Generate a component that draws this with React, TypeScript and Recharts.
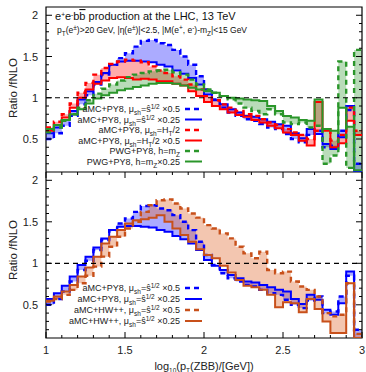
import React from "react";
import {
  ComposedChart,
  Line,
  Area,
  XAxis,
  YAxis,
  ReferenceLine,
  ReferenceArea,
} from "recharts";

// bin edges in log10(pT(ZBB)/GeV), 40 bins of 0.05
const binEdges = [
  1, 1.05, 1.1, 1.15, 1.2, 1.25, 1.3, 1.35, 1.4, 1.45, 1.5, 1.55, 1.6, 1.65,
  1.7, 1.75, 1.8, 1.85, 1.9, 1.95, 2, 2.05, 2.1, 2.15, 2.2, 2.25, 2.3, 2.35,
  2.4, 2.45, 2.5, 2.55, 2.6, 2.65, 2.7, 2.75, 2.8, 2.85, 2.9, 2.95, 3,
];

// aMC+PY8, mu_sh = sqrt(s_hat) x0.5 / x0.25
const py8Half = [
  0.5, 0.57, 0.66, 0.78, 0.92, 1.03, 1.16, 1.28, 1.4, 1.48,
  1.54, 1.62, 1.69, 1.7, 1.66, 1.64, 1.58, 1.5, 1.4, 1.26,
  1.1, 0.98, 0.88, 0.82, 0.78, 0.74, 0.72, 0.68, 0.64, 0.62,
  0.56, 0.5, 0.46, 0.55, 0.6, 0.4, 0.42, 0.6, 0.85, 0.2,
];
const py8Quarter = [
  0.57, 0.64, 0.73, 0.84, 0.98, 1.08, 1.19, 1.3, 1.4, 1.44,
  1.45, 1.45, 1.44, 1.43, 1.4, 1.38, 1.33, 1.29, 1.24, 1.16,
  1.04, 0.97, 0.92, 0.86, 0.82, 0.78, 0.77, 0.74, 0.71, 0.68,
  0.66, 0.57, 0.51, 0.62, 0.56, 0.44, 0.38, 0.52, 0.9, 0.1,
];

// aMC+PY8, mu_sh = H_T/2 and H_T/2 x0.5
const py8Ht = [
  0.64, 0.71, 0.8, 0.93, 1.06, 1.18, 1.28, 1.36, 1.41, 1.44,
  1.46, 1.45, 1.43, 1.38, 1.33, 1.3, 1.26, 1.22, 1.16, 1.1,
  1.02, 0.97, 0.92, 0.88, 0.84, 0.8, 0.78, 0.74, 0.7, 0.67,
  0.62, 0.58, 0.55, 0.5, 0.6, 0.62, 0.48, 0.55, 0.88, 0.6,
];
const py8HtHalf = [
  0.6, 0.67, 0.76, 0.88, 1.0, 1.1, 1.17, 1.21, 1.24, 1.25,
  1.24, 1.22, 1.23, 1.22, 1.2, 1.2, 1.17, 1.15, 1.08, 1.02,
  0.95, 0.9, 0.86, 0.82, 0.79, 0.77, 0.73, 0.7, 0.66, 0.63,
  0.58, 0.55, 0.48, 0.42, 0.95, 0.6, 0.4, 0.45, 0.72, 0.55,
];

// PWG+PY8, h = m_Z and m_Z x0.25
const pwgMz = [
  0.58, 0.64, 0.72, 0.8, 0.88, 0.97, 1.05, 1.11, 1.16, 1.21,
  1.25, 1.28, 1.3, 1.32, 1.33, 1.34, 1.31, 1.28, 1.22, 1.16,
  1.1, 1.06, 1.02, 0.98, 0.93, 0.88, 0.84, 0.8, 0.86, 0.8,
  0.7, 0.68, 0.7, 0.64, 0.66, 0.2, 0.3, 1.44, 0.15, 1.58,
];
const pwgMzQuarter = [
  0.62, 0.67, 0.73, 0.8, 0.86, 0.93, 0.99, 1.03, 1.06, 1.09,
  1.11, 1.13, 1.15, 1.17, 1.18, 1.18, 1.17, 1.15, 1.12, 1.1,
  1.08, 1.06, 1.02, 1.0, 0.99, 0.98, 0.97, 0.96, 0.9, 0.84,
  0.78, 0.76, 0.73, 0.72, 0.98, 0.62, 0.6, 0.88, 0.65, 0.12,
];

// aMC+HW++, mu_sh = sqrt(s_hat) x0.5 / x0.25
const hwHalf = [
  0.54, 0.57, 0.62, 0.68, 0.76, 0.85, 0.96, 1.08, 1.2, 1.32,
  1.42, 1.5, 1.62, 1.7, 1.76, 1.77, 1.72, 1.66, 1.6, 1.55,
  1.46, 1.42, 1.36, 1.3, 1.2, 1.12, 1.06, 1.14, 0.92, 0.88,
  0.9, 0.78, 0.72, 0.68, 0.6, 0.4, 0.36, 0.38, 0.76, 0.15,
];
const hwQuarter = [
  0.55, 0.6, 0.66, 0.74, 0.84, 0.95, 1.08, 1.24, 1.32, 1.4,
  1.48, 1.52, 1.53, 1.55, 1.58, 1.5, 1.42, 1.34, 1.26, 1.17,
  1.1, 1.06, 0.97, 0.89, 0.8, 0.73, 0.71, 0.68, 0.62, 0.47,
  0.53, 0.52, 0.41, 0.57, 0.45, 0.3, 0.16, 0.16, 0.76, 0.1,
];

const xTicks = [
  1, 1.1, 1.2, 1.3, 1.4, 1.5, 1.6, 1.7, 1.8, 1.9, 2, 2.1, 2.2, 2.3, 2.4, 2.5,
  2.6, 2.7, 2.8, 2.9, 3,
];
const xMajor = [1, 1.5, 2, 2.5, 3];
const yTicks = [
  0.2, 0.3, 0.4, 0.5, 0.6, 0.7, 0.8, 0.9, 1, 1.1, 1.2, 1.3, 1.4, 1.5, 1.6, 1.7,
  1.8, 1.9, 2,
];
const yMajor = [0.5, 1, 1.5, 2];

// one row per bin edge; the last edge repeats the last bin so stepAfter closes it
const rows = binEdges.map((x, i) => {
  const k = Math.min(i, py8Half.length - 1);
  return {
    x,
    py8Half: py8Half[k],
    py8Quarter: py8Quarter[k],
    py8Ht: py8Ht[k],
    py8HtHalf: py8HtHalf[k],
    pwgMz: pwgMz[k],
    pwgMzQuarter: pwgMzQuarter[k],
    hwHalf: hwHalf[k],
    hwQuarter: hwQuarter[k],
  };
});

const FONT = "'Liberation Sans', Arial, sans-serif";
const W = 366;
const PLOT_W = 316;
const TOP_H = 172;
const BOT_H = 200;
const TOP_PLOT_H = 165;
const BOT_PLOT_H = 166;

const BLUE = "#0000ff";
const RED = "#ff0000";
const GREEN = "#2a962a";
const ORANGE = "#c8501a";
const DASH = "5 4";

const isMajor = (v: number, list: number[]) =>
  list.some((m) => Math.abs(m - v) < 1e-6);

// inward ticks on both sides of the frame, labels only on the left
const yTick = (props: any) => {
  const { x, y, payload } = props;
  const major = isMajor(payload.value, yMajor);
  const len = major ? 6 : 3;
  return (
    <g>
      <line x1={x} x2={x + len} y1={y} y2={y} stroke="#000" />
      <line x1={x + PLOT_W} x2={x + PLOT_W - len} y1={y} y2={y} stroke="#000" />
      {major && (
        <text x={x - 8} y={y + 4} textAnchor="end" fontSize={11} fill="#222" fontFamily={FONT}>
          {payload.value}
        </text>
      )}
    </g>
  );
};

const xTick = (plotH: number, labels: boolean) => (props: any) => {
  const { x, y, payload } = props;
  const major = isMajor(payload.value, xMajor);
  const len = major ? 6 : 3;
  return (
    <g>
      <line x1={x} x2={x} y1={y} y2={y - len} stroke="#000" />
      <line x1={x} x2={x} y1={y - plotH} y2={y - plotH + len} stroke="#000" />
      {labels && major && (
        <text x={x} y={y + 16} textAnchor="middle" fontSize={11} fill="#222" fontFamily={FONT}>
          {payload.value}
        </text>
      )}
    </g>
  );
};

function band(lo: string, hi: string, color: string, opacity = 0.33) {
  return (
    <Area
      key={lo + hi}
      type="stepAfter"
      dataKey={(d: any) => [d[lo], d[hi]]}
      stroke="none"
      fill={color}
      fillOpacity={opacity}
      isAnimationActive={false}
      activeDot={false}
    />
  );
}

function step(key: string, color: string, dashed: boolean) {
  return (
    <Line
      key={key}
      type="stepAfter"
      dataKey={key}
      stroke={color}
      strokeWidth={dashed ? 2.4 : 2}
      strokeDasharray={dashed ? DASH : undefined}
      dot={false}
      activeDot={false}
      isAnimationActive={false}
    />
  );
}

function axes(plotH: number, labels: boolean, xHeight: number) {
  return [
    <XAxis
      key="x"
      dataKey="x"
      type="number"
      domain={[1, 3]}
      ticks={xTicks}
      interval={0}
      height={xHeight}
      tickSize={0}
      tickMargin={0}
      axisLine={false}
      tickLine={false}
      tick={xTick(plotH, labels)}
      allowDataOverflow
    />,
    <YAxis
      key="y"
      type="number"
      domain={[0.1, 2.1]}
      ticks={yTicks}
      interval={0}
      width={38}
      tickSize={0}
      tickMargin={0}
      axisLine={false}
      tickLine={false}
      tick={yTick}
      allowDataOverflow
    />,
  ];
}

const frame = [
  <ReferenceLine key="one" y={1} stroke="#000" strokeWidth={1.2} strokeDasharray="5 4" />,
  <ReferenceArea key="frame" x1={1} x2={3} y1={0.1} y2={2.1} fill="none" stroke="#000" strokeWidth={1.2} fillOpacity={0} />,
];

// sub/superscripts shift only their own span
const Sub = ({ children }: { children: React.ReactNode }) => (
  <tspan baselineShift={-2.5} fontSize={6.5}>{children}</tspan>
);
const Sup = ({ children }: { children: React.ReactNode }) => (
  <tspan baselineShift={3.5} fontSize={6.5}>{children}</tspan>
);

const muSqrt = (gen: string, factor: string) => (
  <>
    {gen}, μ<Sub>sh</Sub>=ŝ<Sup>1/2</Sup> {factor}
  </>
);

const topLegend = [
  { label: muSqrt("aMC+PY8", "×0.5"), color: BLUE, dashed: true },
  { label: muSqrt("aMC+PY8", "×0.25"), color: BLUE, dashed: false },
  { label: <>aMC+PY8, μ<Sub>sh</Sub>=H<Sub>T</Sub>/2</>, color: RED, dashed: true },
  { label: <>aMC+PY8, μ<Sub>sh</Sub>=H<Sub>T</Sub>/2 ×0.5</>, color: RED, dashed: false },
  { label: <>PWG+PY8, h=m<Sub>Z</Sub></>, color: GREEN, dashed: true },
  { label: <>PWG+PY8, h=m<Sub>Z</Sub>×0.25</>, color: GREEN, dashed: false },
];
const bottomLegend = [
  { label: muSqrt("aMC+PY8", "×0.5"), color: BLUE, dashed: true },
  { label: muSqrt("aMC+PY8", "×0.25"), color: BLUE, dashed: false },
  { label: muSqrt("aMC+HW++", "×0.5"), color: ORANGE, dashed: true },
  { label: muSqrt("aMC+HW++", "×0.25"), color: ORANGE, dashed: false },
];

function legendRows(items: typeof topLegend, y0: number, dy: number) {
  return items.map((it, i) => {
    const y = y0 + i * dy;
    return (
      <g key={y}>
        <text x={180} y={y + 3} textAnchor="end" fontSize={9} fill="#222">
          {it.label}
        </text>
        <line
          x1={185}
          x2={202}
          y1={y}
          y2={y}
          stroke={it.color}
          strokeWidth={it.dashed ? 2.4 : 2}
          strokeDasharray={it.dashed ? DASH : undefined}
        />
      </g>
    );
  });
}

export default function App() {
  return (
    <div
      style={{
        position: "absolute",
        left: 0,
        top: 0,
        width: W,
        height: 372,
        background: "#fff",
        fontFamily: FONT,
      }}
    >
      <div style={{ position: "absolute", left: 0, top: 0 }}>
        <ComposedChart
          width={W}
          height={TOP_H}
          data={rows}
          margin={{ top: 7, right: 4, bottom: 0, left: 8 }}
        >
          {axes(TOP_PLOT_H, false, 0)}
          {band("py8Half", "py8Quarter", BLUE)}
          {band("py8Ht", "py8HtHalf", RED)}
          {band("pwgMz", "pwgMzQuarter", GREEN)}
          {step("py8Half", BLUE, true)}
          {step("py8Quarter", BLUE, false)}
          {step("py8Ht", RED, true)}
          {step("py8HtHalf", RED, false)}
          {step("pwgMz", GREEN, true)}
          {step("pwgMzQuarter", GREEN, false)}
          {frame}
        </ComposedChart>
      </div>
      <div style={{ position: "absolute", left: 0, top: TOP_H }}>
        <ComposedChart
          width={W}
          height={BOT_H}
          data={rows}
          margin={{ top: 0, right: 4, bottom: 0, left: 8 }}
        >
          {axes(BOT_PLOT_H, true, 34)}
          {band("py8Half", "py8Quarter", BLUE)}
          {band("hwHalf", "hwQuarter", "#e0703a", 0.4)}
          {step("py8Half", BLUE, true)}
          {step("py8Quarter", BLUE, false)}
          {step("hwHalf", ORANGE, true)}
          {step("hwQuarter", ORANGE, false)}
          {frame}
        </ComposedChart>
      </div>

      <svg
        width={W}
        height={372}
        style={{ position: "absolute", left: 0, top: 0, pointerEvents: "none" }}
        fontFamily={FONT}
      >
        <text x={55} y={20} fontSize={11} fill="#111">
          e<Sup>+</Sup>e<Sup>-</Sup>b<tspan style={{ textDecoration: "overline" }}>b</tspan> production at the LHC, 13 TeV
        </text>
        <text x={57} y={33} fontSize={8.5} fill="#111">
          p<Sub>T</Sub>(e<Sup>±</Sup>)&gt;20 GeV, |η(e<Sup>±</Sup>)|&lt;2.5, |M(e<Sup>+</Sup>, e<Sup>-</Sup>)-m<Sub>Z</Sub>|&lt;15 GeV
        </text>

        {legendRows(topLegend, 109, 10.5)}
        {legendRows(bottomLegend, 288, 11)}

        <text x={17} y={88} fontSize={11.5} fill="#222" textAnchor="middle" transform="rotate(-90 17 88)">
          Ratio /fNLO
        </text>
        <text x={17} y={250} fontSize={11.5} fill="#222" textAnchor="middle" transform="rotate(-90 17 250)">
          Ratio /fNLO
        </text>

        <text x={204} y={370} fontSize={11} fill="#222" textAnchor="middle">
          log<Sub>10</Sub>(p<Sub>T</Sub>(ZBB)/[GeV])
        </text>
      </svg>
    </div>
  );
}
